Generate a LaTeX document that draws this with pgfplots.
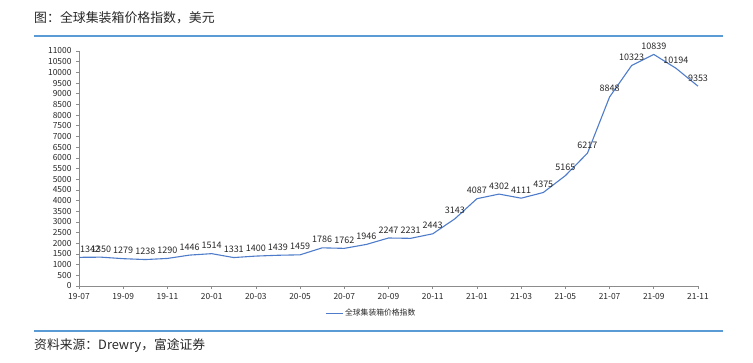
\documentclass[border=0pt]{standalone}
\usepackage{fontspec}
\setmainfont{Noto Sans CJK SC}
\usepackage{pgfplots}
\pgfplotsset{compat=1.18}
\definecolor{lineblue}{RGB}{79,124,202}
\definecolor{rule}{RGB}{91,155,213}
\definecolor{axgray}{RGB}{140,140,140}
\definecolor{txt}{RGB}{40,40,40}
\begin{document}
\begin{tikzpicture}[x=1pt,y=1pt]
\path[use as bounding box] (0,0) rectangle (753,362);
\node[anchor=west,font=\fontsize{12.9}{15}\selectfont,text=txt,inner sep=0] at (34,344) {图：全球集装箱价格指数，美元};
\draw[rule,line width=2.2pt] (34,326) -- (723,326);
\draw[rule,line width=2.2pt] (34,31) -- (723,31);
\node[anchor=west,font=\fontsize{12.8}{15}\selectfont,text=txt,inner sep=0] at (34,16) {资料来源：Drewry，富途证券};
\begin{axis}[
  at={(79pt,76pt)}, anchor=south west,
  scale only axis, width=619pt, height=235pt,
  xmin=0, xmax=28, ymin=0, ymax=11000,
  axis x line=bottom, axis y line=left,
  axis line style={axgray,-, line width=0.8pt},
  tick style={axgray, line width=0.6pt},
  tick align=outside, major tick length=3pt,
  xtick={0,2,...,28},
  xticklabels={19-07,19-09,19-11,20-01,20-03,20-05,20-07,20-09,20-11,21-01,21-03,21-05,21-07,21-09,21-11},
  ytick={0,500,...,11000},
  /pgf/number format/assume math mode=true,
  /pgf/number format/.cd, 1000 sep={}, /pgfplots/.cd,
  tick label style={font=\fontsize{8.4}{9}\selectfont, text=txt},
  yticklabel style={xshift=-1pt},
  xticklabel style={yshift=-1pt},
  scaled y ticks=false,
  clip=false,
  legend style={at={(0.472,-0.115)}, anchor=center, draw=none, fill=none, font=\fontsize{7.8}{9}\selectfont, text=txt},
  legend image post style={line width=1pt},
]
\addplot[color=lineblue, line width=1.1pt, mark=none,
  point meta=explicit symbolic,
  nodes near coords,
  every node near coord/.append style={font=\fontsize{9}{10}\selectfont, text=txt, yshift=1pt},
] coordinates {
(0,1342) [] (1,1350) [1350] (2,1279) [1279] (3,1238) [1238] (4,1290) [1290] (5,1446) [1446] (6,1514) [1514] (7,1331) [1331] (8,1400) [1400] (9,1439) [1439] (10,1459) [1459] (11,1786) [1786] (12,1762) [1762] (13,1946) [1946] (14,2247) [2247] (15,2231) [2231] (16,2443) [2443] (17,3143) [3143] (18,4087) [4087] (19,4302) [4302] (20,4111) [4111] (21,4375) [4375] (22,5165) [5165] (23,6217) [6217] (24,8848) [8848] (25,10323) [10323] (26,10839) [10839] (27,10194) [10194] (28,9353) [9353]
};
\addlegendentry{全球集装箱价格指数}
\addplot[draw=none, mark=none, forget plot,
  point meta=explicit symbolic,
  nodes near coords,
  every node near coord/.append style={font=\fontsize{9}{10}\selectfont, text=txt, yshift=1pt, xshift=11pt},
] coordinates {(0,1342) [1342]};
\end{axis}
\end{tikzpicture}
\end{document}
